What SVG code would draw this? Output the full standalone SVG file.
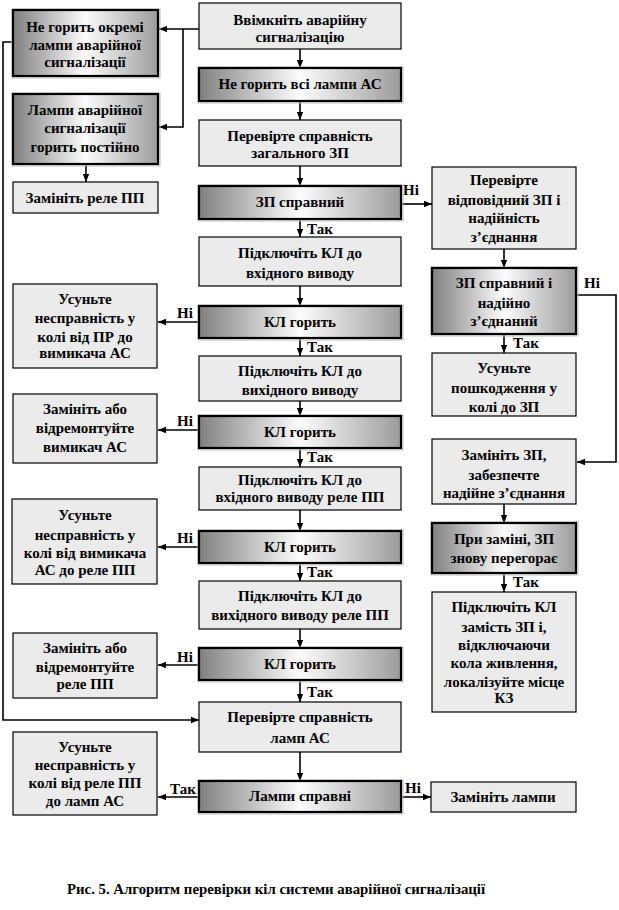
<svg xmlns="http://www.w3.org/2000/svg" width="619" height="910" viewBox="0 0 619 910">
<style>
text{font-family:"Liberation Serif","Times New Roman","DejaVu Serif",serif;font-weight:bold;font-size:15px;fill:#000;text-anchor:middle}
.lbl{text-anchor:start}
.cap{text-anchor:start;font-size:14.8px}
.lt{fill:#ebebeb;stroke:#000;stroke-width:1.2}
.dk{fill:url(#g);stroke:#000;stroke-width:2.2}
.sh{fill:none;stroke:#bbb;stroke-width:1}
.c{fill:none;stroke:#000;stroke-width:1.6}
</style>
<defs>
<linearGradient id="g" x1="0" y1="0" x2="1" y2="0">
<stop offset="0" stop-color="#808080"/>
<stop offset="0.5" stop-color="#fcfcfc"/>
<stop offset="1" stop-color="#9c9c9c"/>
</linearGradient>
<marker id="a" viewBox="0 0 10 10" refX="10" refY="5" markerWidth="8" markerHeight="8" markerUnits="userSpaceOnUse" orient="auto">
<path d="M0,1 L10,5 L0,9 Z" fill="#000"/>
</marker>
</defs>
<rect width="619" height="910" fill="#fff"/>

<g id="connectors">
<path class="c" marker-end="url(#a)" d="M300,49 V68"/>
<path class="c" marker-end="url(#a)" d="M300,101 V120"/>
<path class="c" marker-end="url(#a)" d="M300,166 V186"/>
<path class="c" marker-end="url(#a)" d="M300,219 V237"/>
<path class="c" marker-end="url(#a)" d="M300,286 V306"/>
<path class="c" marker-end="url(#a)" d="M300,338 V356"/>
<path class="c" marker-end="url(#a)" d="M300,401 V416"/>
<path class="c" marker-end="url(#a)" d="M300,448 V467"/>
<path class="c" marker-end="url(#a)" d="M300,510 V531"/>
<path class="c" marker-end="url(#a)" d="M300,563 V581"/>
<path class="c" marker-end="url(#a)" d="M300,629 V648"/>
<path class="c" marker-end="url(#a)" d="M300,680 V702"/>
<path class="c" marker-end="url(#a)" d="M300,752 V781"/>
<path class="c" marker-end="url(#a)" d="M401,797 H431"/>
<path class="c" marker-end="url(#a)" d="M199,797 H158"/>
<path class="c" marker-end="url(#a)" d="M199,322 H158"/>
<path class="c" marker-end="url(#a)" d="M199,430 H158"/>
<path class="c" marker-end="url(#a)" d="M199,547 H158"/>
<path class="c" marker-end="url(#a)" d="M199,665 H158"/>
<path class="c" marker-end="url(#a)" d="M199,29 H159"/>
<path class="c" marker-end="url(#a)" d="M183,29 V127 H159"/>
<path class="c" marker-end="url(#a)" d="M86,164 V182"/>
<path class="c" marker-end="url(#a)" d="M13,42 H3 V720 H199"/>
<path class="c" marker-end="url(#a)" d="M401,204 H432"/>
<path class="c" marker-end="url(#a)" d="M504,249 V268"/>
<path class="c" marker-end="url(#a)" d="M504,334 V353"/>
<path class="c" marker-end="url(#a)" d="M576,295 H616 V462 H577"/>
<path class="c" marker-end="url(#a)" d="M504,504 V523"/>
<path class="c" marker-end="url(#a)" d="M504,573 V592"/>
<text class="lbl" x="307" y="234">Так</text>
<text class="lbl" x="307" y="352">Так</text>
<text class="lbl" x="307" y="462">Так</text>
<text class="lbl" x="307" y="577">Так</text>
<text class="lbl" x="307" y="697">Так</text>
<text class="lbl" x="513" y="348">Так</text>
<text class="lbl" x="513" y="587">Так</text>
<text class="lbl" x="170" y="794">Так</text>
<text class="lbl" x="405" y="793">Ні</text>
<text class="lbl" x="403" y="195">Ні</text>
<text class="lbl" x="584" y="288">Ні</text>
<text class="lbl" x="177" y="318">Ні</text>
<text class="lbl" x="177" y="426">Ні</text>
<text class="lbl" x="177" y="543">Ні</text>
<text class="lbl" x="177" y="662">Ні</text>
</g>

<g id="b1"><rect class="lt" x="199" y="3" width="202" height="46"/><text x="300" y="25">Ввімкніть  аварійну</text><text x="300" y="42">сигналізацію</text></g>
<g id="b2"><rect class="sh" x="198" y="67" width="205" height="36"/><rect class="dk" x="199" y="68" width="202" height="33"/><text x="300" y="89">Не горить всі лампи АС</text></g>
<g id="b3"><rect class="lt" x="199" y="120" width="202" height="46"/><text x="300" y="141">Перевірте  справність</text><text x="300" y="158">загального ЗП</text></g>
<g id="b4"><rect class="sh" x="198" y="185" width="205" height="36"/><rect class="dk" x="199" y="186" width="202" height="33"/><text x="300" y="207">ЗП справний</text></g>
<g id="b5"><rect class="lt" x="199" y="237" width="202" height="49"/><text x="300" y="258">Підключіть  КЛ до</text><text x="300" y="278">вхідного виводу</text></g>
<g id="b6"><rect class="sh" x="198" y="305" width="205" height="35"/><rect class="dk" x="199" y="306" width="202" height="32"/><text x="300" y="327">КЛ горить</text></g>
<g id="b7"><rect class="lt" x="199" y="356" width="202" height="45"/><text x="300" y="376">Підключіть  КЛ до</text><text x="300" y="395">вихідного виводу</text></g>
<g id="b8"><rect class="sh" x="198" y="415" width="205" height="35"/><rect class="dk" x="199" y="416" width="202" height="32"/><text x="300" y="437">КЛ горить</text></g>
<g id="b9"><rect class="lt" x="199" y="467" width="202" height="43"/><text x="300" y="485">Підключіть  КЛ до</text><text x="300" y="502">вхідного виводу реле ПП</text></g>
<g id="b10"><rect class="sh" x="198" y="530" width="205" height="35"/><rect class="dk" x="199" y="531" width="202" height="32"/><text x="300" y="552">КЛ горить</text></g>
<g id="b11"><rect class="lt" x="199" y="581" width="202" height="48"/><text x="300" y="601">Підключіть  КЛ до</text><text x="300" y="620">вихідного виводу реле ПП</text></g>
<g id="b12"><rect class="sh" x="198" y="647" width="205" height="35"/><rect class="dk" x="199" y="648" width="202" height="32"/><text x="300" y="669">КЛ горить</text></g>
<g id="b13"><rect class="lt" x="199" y="702" width="202" height="50"/><text x="300" y="722">Перевірте  справність</text><text x="300" y="743">ламп АС</text></g>
<g id="b14"><rect class="sh" x="198" y="780" width="205" height="34"/><rect class="dk" x="199" y="781" width="202" height="31"/><text x="300" y="801">Лампи справні</text></g>
<g id="r7"><rect class="lt" x="431" y="782" width="145" height="30"/><text x="503" y="802">Замініть  лампи</text></g>

<g id="l1"><rect class="sh" x="12" y="9" width="148" height="69"/><rect class="dk" x="13" y="10" width="145" height="66"/><text x="85" y="32">Не горить окремі</text><text x="85" y="50">лампи аварійної</text><text x="85" y="67">сигналізації</text></g>
<g id="l2"><rect class="sh" x="12" y="93" width="148" height="73"/><rect class="dk" x="13" y="94" width="145" height="70"/><text x="85" y="115">Лампи аварійної</text><text x="85" y="133">сигналізації</text><text x="85" y="152">горить постійно</text></g>
<g id="l3"><rect class="lt" x="13" y="182" width="145" height="31"/><text x="85" y="203">Замініть  реле ПП</text></g>
<g id="l4"><rect class="lt" x="13" y="284" width="144" height="84"/><text x="85" y="304">Усуньте</text><text x="85" y="323">несправність у</text><text x="85" y="342">колі від ПР до</text><text x="85" y="358">вимикача АС</text></g>
<g id="l5"><rect class="lt" x="13" y="394" width="144" height="69"/><text x="85" y="414">Замініть  або</text><text x="85" y="433">відремонтуйте</text><text x="85" y="452">вимикач АС</text></g>
<g id="l6"><rect class="lt" x="12" y="499" width="145" height="85"/><text x="85" y="520">Усуньте</text><text x="85" y="540">несправність у</text><text x="85" y="558">колі від вимикача</text><text x="85" y="575">АС до реле ПП</text></g>
<g id="l7"><rect class="lt" x="13" y="633" width="144" height="65"/><text x="85" y="653">Замініть  або</text><text x="85" y="672">відремонтуйте</text><text x="85" y="689">реле ПП</text></g>
<g id="l8"><rect class="lt" x="13" y="732" width="144" height="83"/><text x="85" y="752">Усуньте</text><text x="85" y="770">несправність у</text><text x="85" y="788">колі від реле ПП</text><text x="85" y="806">до ламп АС</text></g>

<g id="r1"><rect class="lt" x="432" y="167" width="144" height="82"/><text x="504" y="185">Перевірте</text><text x="504" y="205">відповідний ЗП і</text><text x="504" y="223">надійність</text><text x="504" y="242">з’єднання</text></g>
<g id="r2"><rect class="sh" x="431" y="267" width="147" height="69"/><rect class="dk" x="432" y="268" width="144" height="66"/><text x="504" y="288">ЗП справний і</text><text x="504" y="308">надійно</text><text x="504" y="326">з’єднаний</text></g>
<g id="r3"><rect class="lt" x="432" y="353" width="144" height="63"/><text x="504" y="373">Усуньте</text><text x="504" y="393">пошкодження у</text><text x="504" y="412">колі до ЗП</text></g>
<g id="r4"><rect class="lt" x="432" y="439" width="144" height="65"/><text x="504" y="460">Замініть ЗП,</text><text x="504" y="480">забезпечте</text><text x="504" y="498">надійне з’єднання</text></g>
<g id="r5"><rect class="sh" x="431" y="522" width="147" height="53"/><rect class="dk" x="432" y="523" width="144" height="50"/><text x="504" y="544">При заміні, ЗП</text><text x="504" y="563">знову перегорає</text></g>
<g id="r6"><rect class="lt" x="432" y="592" width="144" height="120"/><text x="504" y="612">Підключіть  КЛ</text><text x="504" y="632">замість ЗП і,</text><text x="504" y="650">відключаючи</text><text x="504" y="668">кола живлення,</text><text x="504" y="687">локалізуйте  місце</text><text x="504" y="703">КЗ</text></g>

<text class="cap" x="67" y="894">Рис. 5. Алгоритм перевірки кіл  системи аварійної сигналізації</text>
</svg>
